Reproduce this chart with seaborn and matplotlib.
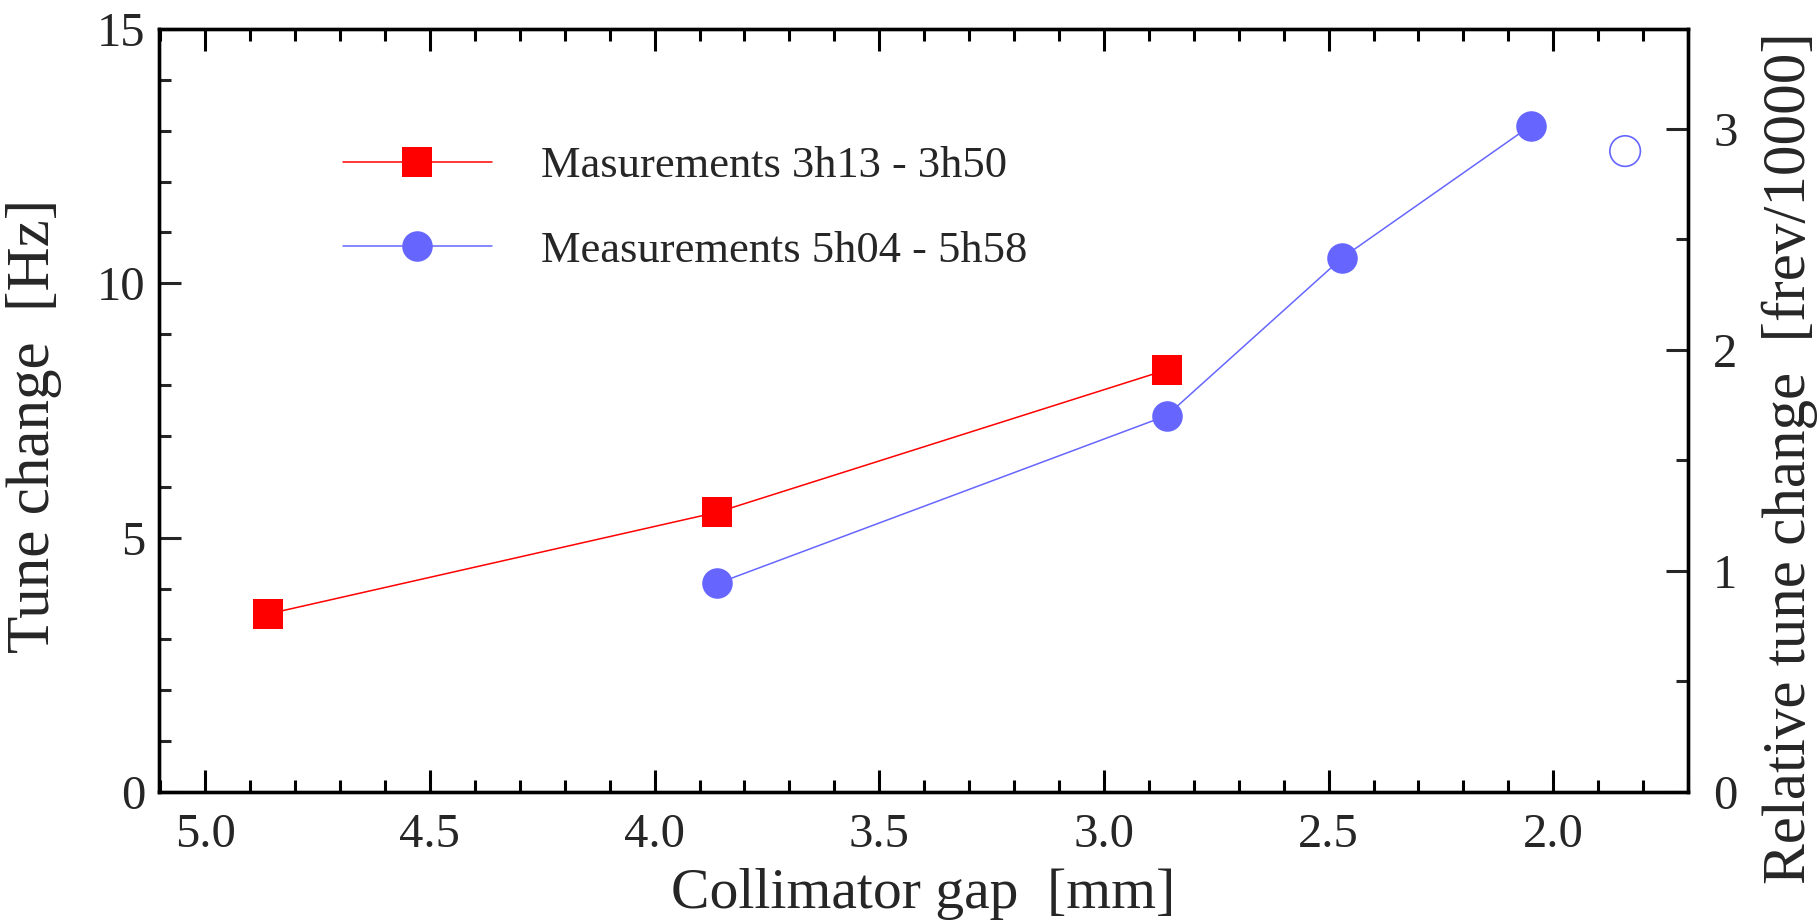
import matplotlib
matplotlib.use("Agg")
import matplotlib.pyplot as plt
import seaborn as sns
import numpy as np
import pandas as pd
from matplotlib.ticker import MultipleLocator

# ---- data ----
gap_a = [4.86, 3.86, 2.86]
tune_a = [3.5, 5.5, 8.3]
label_a = "Masurements 3h13 - 3h50"

gap_b = [3.86, 2.86, 2.47, 2.05]
tune_b = [4.1, 7.4, 10.5, 13.1]
label_b = "Measurements 5h04 - 5h58"

gap_open = [1.84]
tune_open = [12.6]

HZ_PER_UNIT = 4.345  # Hz per 1e-4 frev

RED = "#ff0000"
BLUE = "#6666ff"

sns.set_style("ticks")
plt.rcParams["font.family"] = ["Liberation Serif", "DejaVu Serif"]
plt.rcParams["mathtext.fontset"] = "stix"

fig = plt.figure(figsize=(18.19, 9.24), dpi=100)
ax = fig.add_axes([0.0874, 0.1429, 0.9280 - 0.0874, 0.9686 - 0.1429])

df_a = pd.DataFrame({"gap": gap_a, "tune": tune_a})
df_b = pd.DataFrame({"gap": gap_b, "tune": tune_b})
df_o = pd.DataFrame({"gap": gap_open, "tune": tune_open})

sns.lineplot(data=df_a, x="gap", y="tune", ax=ax, color=RED, lw=1.1,
             marker="s", markersize=22, markeredgewidth=0, label=label_a,
             sort=False, estimator=None)
sns.lineplot(data=df_b, x="gap", y="tune", ax=ax, color=BLUE, lw=1.1,
             marker="o", markersize=22, markeredgewidth=0, label=label_b,
             sort=False, estimator=None)
sns.scatterplot(data=df_o, x="gap", y="tune", ax=ax, s=22**2,
                facecolors="none", edgecolors=BLUE, linewidths=1.2,
                legend=False, zorder=3)

ax.set_xlim(5.103, 1.70)
ax.set_ylim(0, 15)
ax.xaxis.set_major_locator(MultipleLocator(0.5))
ax.xaxis.set_minor_locator(MultipleLocator(0.1))
ax.yaxis.set_major_locator(MultipleLocator(5))
ax.yaxis.set_minor_locator(MultipleLocator(1))
ax.xaxis.set_major_formatter(matplotlib.ticker.FormatStrFormatter("%.1f"))

ax2 = ax.twinx()
ax2.set_ylim(0, 15 / HZ_PER_UNIT)
ax2.yaxis.set_major_locator(MultipleLocator(1))
ax2.yaxis.set_minor_locator(MultipleLocator(0.5))

for a in (ax, ax2):
    for s in a.spines.values():
        s.set_linewidth(2.4)
        s.set_color("black")
        s.set_visible(True)

ax.tick_params(axis="x", which="both", direction="in", top=True, bottom=True,
               labelsize=35, pad=15, width=2.2, color="black")
ax.tick_params(axis="y", which="both", direction="in", left=True, right=False,
               labelsize=35, pad=10, width=2.2)
ax2.tick_params(axis="y", which="both", direction="in", left=False, right=True,
                labelsize=35, pad=18, width=2.2)
for a in (ax, ax2):
    a.tick_params(which="major", length=16)
    a.tick_params(which="minor", length=8.5)

ax.set_xlabel("Collimator gap  [mm]", fontsize=41.5, labelpad=8)
ax.set_ylabel("Tune change  [Hz]", fontsize=44)
ax.yaxis.set_label_coords(-0.0634, 0.48)
ax2.set_ylabel("Relative tune change  [frev/10000]", fontsize=44)
ax2.yaxis.set_label_coords(1.0484, 0.4377)

leg = ax.legend(loc="upper left", bbox_to_anchor=(0.1087, 0.87), frameon=False,
                fontsize=32, handlelength=3.35, handletextpad=1.1,
                labelspacing=1.0, borderaxespad=0)

fig.savefig("out.png", dpi=100)
